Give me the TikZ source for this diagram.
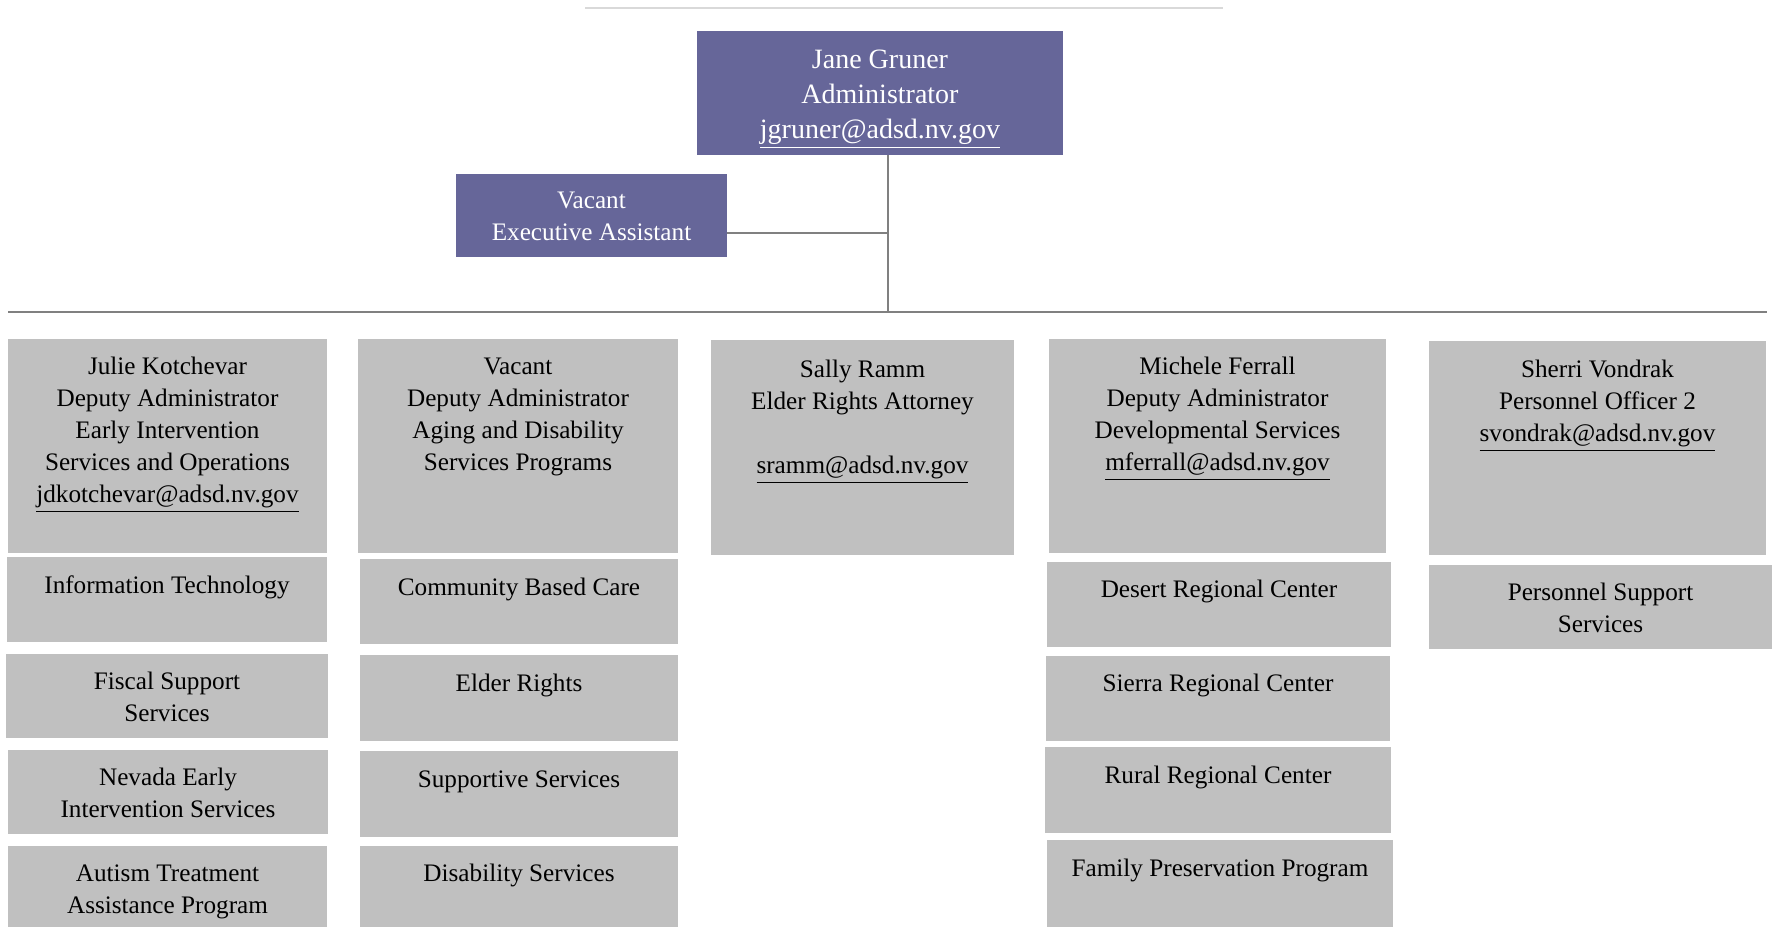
\documentclass[tikz,border=0pt]{standalone}
\usepackage{fontspec}
\setmainfont{Liberation Serif}
\usetikzlibrary{fit,calc}
\definecolor{purp}{RGB}{102,102,153}
\definecolor{gbox}{RGB}{192,192,192}
\definecolor{conn}{RGB}{128,128,128}
\definecolor{topl}{RGB}{217,217,217}
\tikzset{
  purpbox/.style={fill=purp,draw=none,inner sep=0pt},
  greybox/.style={fill=gbox,draw=none,inner sep=0pt},
  gtxt/.style={anchor=north,align=center,inner sep=0pt,text=black,font=\fontsize{12.6}{16}\selectfont},
  ptxt/.style={anchor=north,align=center,inner sep=0pt,text=white,font=\fontsize{14}{17.5}\selectfont},
  etxt/.style={anchor=north,align=center,inner sep=0pt,text=white,font=\fontsize{12.6}{16}\selectfont},
  link/.style={draw=conn,line width=1pt},
}
\begin{document}
\begin{tikzpicture}[x=0.5pt,y=-0.5pt]
\useasboundingbox (0,0) rectangle (1773,927);
% top rule
\coordinate (topL) at (585,8);
\coordinate (topR) at (1223,8);
\draw[topl,line width=1pt] (topL) -- (topR);
% administrator
\node[purpbox,fit={(697,31) (1063,155)}] (jane) {};
\node[ptxt] (janet) at (880,43.5) {\strut Jane Gruner\\Administrator\\\underline{jgruner@adsd.nv.gov}};
\node[purpbox,fit={(456,174) (727,257)}] (exec) {};
\node[etxt] (exect) at (591.5,186) {\strut Vacant\\Executive Assistant};
% connectors
\coordinate (spine) at (888,312);
\coordinate (execjoin) at (888,233);
\coordinate (barL) at (8,312);
\coordinate (barR) at (1767,312);
\draw[link] (jane.south -| spine) -- (spine);
\draw[link] (execjoin -| exec.east) -- (execjoin);
\draw[link] (barL) -- (barR);
% column 1
\node[greybox,fit={(8,339) (327,553)}] (julie) {};
\node[gtxt] (juliet) at (167.5,352) {\strut Julie Kotchevar\\Deputy Administrator\\Early Intervention\\Services and Operations\\\underline{jdkotchevar@adsd.nv.gov}};
\node[greybox,fit={(7,557) (327,642)}] (it) {};
\node[gtxt] (itt) at (167,571) {\strut Information Technology};
\node[greybox,fit={(6,654) (328,738)}] (fiscal) {};
\node[gtxt] (fiscalt) at (167,667) {\strut Fiscal Support\\Services};
\node[greybox,fit={(8,750) (328,834)}] (nevada) {};
\node[gtxt] (nevadat) at (168,763) {\strut Nevada Early\\Intervention Services};
\node[greybox,fit={(8,846) (327,927)}] (autism) {};
\node[gtxt] (autismt) at (167.5,859) {\strut Autism Treatment\\Assistance Program};
% column 2
\node[greybox,fit={(358,339) (678,553)}] (vacda) {};
\node[gtxt] (vacdat) at (518,352) {\strut Vacant\\Deputy Administrator\\Aging and Disability\\Services Programs};
\node[greybox,fit={(360,559) (678,644)}] (cbc) {};
\node[gtxt] (cbct) at (519,573) {\strut Community Based Care};
\node[greybox,fit={(360,655) (678,741)}] (elder) {};
\node[gtxt] (eldert) at (519,669) {\strut Elder Rights};
\node[greybox,fit={(360,751) (678,837)}] (supp) {};
\node[gtxt] (suppt) at (519,765) {\strut Supportive Services};
\node[greybox,fit={(360,846) (678,927)}] (dis) {};
\node[gtxt] (dist) at (519,859) {\strut Disability Services};
% column 3
\node[greybox,fit={(711,340) (1014,555)}] (sally) {};
\node[gtxt] (sallyt) at (862.5,355) {\strut Sally Ramm\\Elder Rights Attorney\\[16pt]\underline{sramm@adsd.nv.gov}};
% column 4
\node[greybox,fit={(1049,339) (1386,553)}] (mich) {};
\node[gtxt] (micht) at (1217.5,352) {\strut Michele Ferrall\\Deputy Administrator\\Developmental Services\\\underline{mferrall@adsd.nv.gov}};
\node[greybox,fit={(1047,562) (1391,647)}] (desert) {};
\node[gtxt] (desertt) at (1219,575) {\strut Desert Regional Center};
\node[greybox,fit={(1046,656) (1390,741)}] (sierra) {};
\node[gtxt] (sierrat) at (1218,669) {\strut Sierra Regional Center};
\node[greybox,fit={(1045,747) (1391,833)}] (rural) {};
\node[gtxt] (ruralt) at (1218,761) {\strut Rural Regional Center};
\node[greybox,fit={(1047,840) (1393,927)}] (family) {};
\node[gtxt] (familyt) at (1220,854) {\strut Family Preservation Program};
% column 5
\node[greybox,fit={(1429,341) (1766,555)}] (sherri) {};
\node[gtxt] (sherrit) at (1597.5,355) {\strut Sherri Vondrak\\Personnel Officer 2\\\underline{svondrak@adsd.nv.gov}};
\node[greybox,fit={(1429,565) (1772,649)}] (pers) {};
\node[gtxt] (perst) at (1600.5,578) {\strut Personnel Support\\Services};
\end{tikzpicture}
\end{document}
